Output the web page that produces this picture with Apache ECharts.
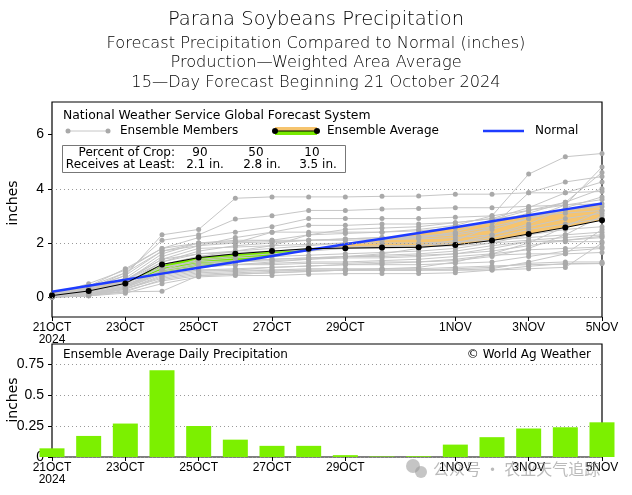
<!DOCTYPE html>
<html><head><meta charset="utf-8">
<script src="https://cdn.jsdelivr.net/npm/echarts@6/dist/echarts.min.js"></script>
<style>html,body{margin:0;padding:0;background:#fff}#c{width:632px;height:495px}</style>
</head><body><div id="c"></div>
<script>
const dayLabels = ['21OCT','22OCT','23OCT','24OCT','25OCT','26OCT','27OCT','28OCT','29OCT','30OCT','31OCT','1NOV','2NOV','3NOV','4NOV','5NOV'];
const shownDays = [0,2,4,6,8,11,13,15];
const yearLabel = '2024';
const ensembleAvg = [0.06,0.23,0.51,1.21,1.46,1.60,1.70,1.79,1.81,1.83,1.84,1.93,2.09,2.33,2.57,2.84];
const normal = [0.20,0.42,0.64,0.87,1.09,1.30,1.52,1.74,1.95,2.16,2.37,2.58,2.80,3.02,3.24,3.46];
const dailyPrecip = [0.07,0.17,0.27,0.70,0.25,0.14,0.09,0.09,0.015,0.004,0.006,0.10,0.16,0.23,0.24,0.28];
const topYTicks = [0,2,4,6];
const bottomYTicks = [0,0.25,0.5,0.75];
const cropPercent = ['90','50','10'];
const cropAmount = ['2.1 in.','2.8 in.','3.5 in.'];

const member01 = [0.10,0.35,0.80,2.30,2.50,3.65,3.70,3.70,3.70,3.72,3.73,3.80,3.80,3.85,3.85,3.90];
const member02 = [0.05,0.30,0.90,2.10,2.30,2.88,3.00,3.20,3.20,3.25,3.27,3.30,3.30,3.35,3.40,3.45];
const member03 = [0.10,0.40,1.05,1.80,2.20,2.40,2.60,2.90,2.90,2.90,2.90,2.95,3.00,3.20,3.50,4.00];
const member04 = [0.00,0.20,0.60,1.50,1.90,2.20,2.40,2.65,2.65,2.70,2.70,2.75,2.90,3.30,3.85,4.25];
const member05 = [0.05,0.30,0.70,1.60,2.00,2.00,2.40,2.40,2.40,2.40,2.45,2.55,2.75,3.10,3.50,4.60];
const member06 = [0.00,0.10,0.30,1.20,1.50,1.70,1.90,2.30,2.35,2.40,2.50,2.65,3.00,4.54,5.18,5.30];
const member07 = [0.05,0.20,0.50,1.30,1.70,1.90,2.00,2.10,2.15,2.20,2.20,2.30,2.50,2.90,3.40,4.80];
const member08 = [0.00,0.15,0.40,1.00,1.40,1.50,1.60,1.70,1.80,1.85,1.90,2.10,2.60,3.85,4.25,4.45];
const member09 = [0.10,0.25,0.60,1.40,1.80,1.85,1.90,1.95,2.00,2.00,2.00,2.05,2.10,2.20,2.30,2.40];
const member10 = [0.00,0.10,0.35,0.90,1.10,1.20,1.30,1.40,1.50,1.60,1.80,2.00,2.30,2.70,3.30,3.70];
const member11 = [0.05,0.20,0.50,1.10,1.30,1.35,1.40,1.45,1.50,1.50,1.55,1.60,1.70,1.90,2.10,2.20];
const member12 = [0.00,0.05,0.25,0.60,0.80,0.85,0.90,0.95,1.00,1.05,1.10,1.30,1.60,2.00,2.60,3.20];
const member13 = [0.05,0.10,0.30,0.80,1.00,1.00,1.00,1.05,1.05,1.05,1.05,1.10,1.15,1.20,1.22,1.24];
const member14 = [0.00,0.05,0.15,0.50,0.75,0.80,0.80,0.85,0.87,0.87,0.87,0.90,1.00,1.14,1.24,1.25];
const member15 = [0.10,0.30,0.80,1.70,2.00,2.10,2.10,2.10,2.10,2.13,2.15,2.20,2.30,2.60,2.90,3.10];
const member16 = [0.00,0.20,0.45,1.00,1.20,1.30,1.35,1.40,1.45,1.45,1.50,1.60,1.80,2.05,2.10,2.25];
const member17 = [0.05,0.15,0.40,0.90,1.10,1.20,1.25,1.30,1.30,1.35,1.40,1.50,1.60,1.75,1.80,1.85];
const member18 = [0.10,0.40,0.90,1.70,1.90,2.00,2.05,2.10,2.15,2.20,2.25,2.35,2.60,2.90,3.20,3.35];
const member19 = [0.00,0.10,0.30,0.70,0.90,0.95,1.00,1.00,1.00,1.00,1.00,1.00,1.05,1.30,1.60,2.50];
const member20 = [0.05,0.25,0.55,1.20,1.50,1.60,1.70,1.75,1.80,1.80,1.85,1.90,2.00,2.10,2.20,2.30];
const member21 = [0.00,0.05,0.20,0.22,0.80,0.85,0.90,0.95,1.00,1.00,1.00,1.05,1.10,1.25,1.30,1.30];
const member22 = [0.05,0.30,0.65,1.40,1.60,1.65,1.70,1.80,1.85,1.90,1.90,2.00,2.20,2.50,2.70,2.90];
const member23 = [0.00,0.15,0.35,0.85,1.00,1.05,1.10,1.15,1.20,1.20,1.20,1.25,1.30,1.50,1.70,1.80];
const member24 = [0.10,0.50,1.00,1.80,2.00,2.05,2.10,2.30,2.50,2.55,2.60,2.75,2.90,3.00,3.10,3.20];
const member25 = [0.00,0.10,0.20,0.65,0.85,0.90,0.95,1.00,1.00,1.00,1.00,1.00,1.00,1.05,1.10,2.00];
const member26 = [0.05,0.20,0.45,1.00,1.25,1.30,1.40,1.45,1.50,1.55,1.60,1.70,1.90,2.05,2.05,2.05];
const member27 = [0.00,0.05,0.30,0.75,0.95,1.00,1.10,1.15,1.20,1.25,1.30,1.40,1.55,1.60,1.60,1.65];
const member28 = [0.05,0.20,0.60,1.30,1.60,1.70,1.80,1.90,2.00,2.10,2.20,2.40,2.85,3.20,3.40,3.60];
const member29 = [0.00,0.10,0.40,0.95,1.15,1.20,1.20,1.25,1.25,1.30,1.30,1.35,1.50,1.80,2.30,3.00];
const member30 = [0.05,0.25,0.50,1.10,1.35,1.45,1.50,1.55,1.60,1.65,1.70,1.80,2.00,2.30,2.50,2.60];
const members = [member01,member02,member03,member04,member05,member06,member07,member08,member09,member10,
  member11,member12,member13,member14,member15,member16,member17,member18,member19,member20,
  member21,member22,member23,member24,member25,member26,member27,member28,member29,member30];

const GREEN = '#78ea00', ORANGE = '#f6c46e', BLUE = '#1e3cff', BAR = '#7cf000';
const FONT = '"DejaVu Sans", sans-serif';
const AXF = '"Liberation Sans Narrow","Liberation Sans",sans-serif';

const chart = echarts.init(document.getElementById('c'), null, {renderer:'canvas'});
const catLabels = dayLabels.map((d,i)=> i===0 ? d + '\n' + yearLabel : d);
const showIdx = (i)=> shownDays.indexOf(i) >= 0;

function catAxis(gi){
  return {type:'category', gridIndex:gi, data:catLabels, boundaryGap:false, position:'bottom',
    axisLine:{show:false},
    axisTick:{show:true, inside:false, length:4, interval:(i)=>showIdx(i), lineStyle:{color:'#000'}},
    axisLabel:{interval:(i)=>showIdx(i), color:'#000', fontFamily:AXF, fontSize:12, margin:5, lineHeight:12},
    splitLine:{show:false}};
}

function renderFill(params, api){
  const i = api.value(0);
  if (i >= ensembleAvg.length - 1) return null;
  const a0 = ensembleAvg[i], a1 = ensembleAvg[i+1], n0 = normal[i], n1 = normal[i+1];
  const d0 = a0 - n0, d1 = a1 - n1;
  const poly = (pts, col)=>({type:'polygon', shape:{points:pts.map(p=>api.coord(p))}, style:{fill:col, stroke:null}});
  const children = [];
  if (d0*d1 >= 0){
    const col = (d0 + d1) >= 0 ? GREEN : ORANGE;
    children.push(poly([[i,a0],[i+1,a1],[i+1,n1],[i,n0]], col));
  } else {
    const t = d0/(d0-d1);
    const cx = i + t, cy = a0 + t*(a1-a0);
    children.push(poly([[i,a0],[cx,cy],[i,n0]], d0>0?GREEN:ORANGE));
    children.push(poly([[cx,cy],[i+1,a1],[i+1,n1]], d1>0?GREEN:ORANGE));
  }
  return {type:'group', children};
}

const series = [];
series.push({type:'custom', xAxisIndex:0, yAxisIndex:0, renderItem:renderFill,
  data: ensembleAvg.map((v,i)=>[i,v]), z:1, silent:true, clip:true});
members.forEach((m)=>{
  series.push({type:'line', xAxisIndex:0, yAxisIndex:0, data:m.map((v,i)=>[i,v]),
    symbol:'circle', symbolSize:5, showSymbol:true, itemStyle:{color:'#a9a9a9'},
    lineStyle:{color:'#c6c6c6', width:1}, z:2, silent:true, animation:false});
});
series.push({type:'line', xAxisIndex:0, yAxisIndex:0, data:normal.map((v,i)=>[i,v]),
  symbol:'none', lineStyle:{color:BLUE, width:2.5}, z:3, silent:true,
  markLine:{silent:true, symbol:['none','none'], label:{show:false},
    lineStyle:{color:'#999', type:[1,3], width:1},
    data: topYTicks.slice(0,3).map(v=>({yAxis:v}))}});
series.push({type:'line', xAxisIndex:0, yAxisIndex:0, data:ensembleAvg.map((v,i)=>[i,v]),
  symbol:'circle', symbolSize:6, itemStyle:{color:'#000'}, lineStyle:{color:'#000', width:1}, z:4, silent:true});
series.push({type:'bar', xAxisIndex:2, yAxisIndex:1, data:dailyPrecip.map((v,i)=>[i,v]),
  barWidth:25, itemStyle:{color:BAR}, clip:true, silent:true});

const txt = (text, x, y, size, align, weight)=>({type:'text', silent:true, z:100,
  style:{text, x, y, fill:'#000', font: (weight||'normal') + ' ' + size + 'px ' + FONT, textAlign:align||'left', textVerticalAlign:'middle'}});
const vtxt = (text, x, y, size)=>({type:'text', silent:true, z:100, x, y, rotation:Math.PI/2,
  style:{text, x:0, y:0, fill:'#000', font:size+'px '+FONT, textAlign:'center', textVerticalAlign:'middle'}});

const graphic = [
  txt('Parana Soybeans Precipitation', 316, 20, 19.5, 'center', '300'),
  txt('Forecast Precipitation Compared to Normal (inches)', 316, 44, 16.2, 'center', '300'),
  txt('Production\u2014Weighted Area Average', 316, 63, 16.2, 'center', '300'),
  txt('15\u2014Day Forecast Beginning 21 October 2024', 316, 83, 16.2, 'center', '300'),
  txt('National Weather Service Global Forecast System', 63, 116, 12.4, 'left'),
  {type:'line', silent:true, z:100, shape:{x1:68,y1:131,x2:108,y2:131}, style:{stroke:'#c6c6c6', lineWidth:1}},
  {type:'circle', silent:true, z:101, shape:{cx:68,cy:131,r:2.5}, style:{fill:'#a9a9a9'}},
  {type:'circle', silent:true, z:101, shape:{cx:108,cy:131,r:2.5}, style:{fill:'#a9a9a9'}},
  txt('Ensemble Members', 120, 131, 12, 'left'),
  {type:'rect', silent:true, z:100, shape:{x:275,y:127,width:42,height:4}, style:{fill:ORANGE}},
  {type:'rect', silent:true, z:100, shape:{x:275,y:131,width:42,height:4}, style:{fill:GREEN}},
  {type:'line', silent:true, z:101, shape:{x1:275,y1:131,x2:317,y2:131}, style:{stroke:'#000', lineWidth:1}},
  {type:'circle', silent:true, z:102, shape:{cx:275,cy:131,r:3}, style:{fill:'#000'}},
  {type:'circle', silent:true, z:102, shape:{cx:317,cy:131,r:3}, style:{fill:'#000'}},
  txt('Ensemble Average', 327, 131, 12, 'left'),
  {type:'line', silent:true, z:100, shape:{x1:483,y1:131,x2:524,y2:131}, style:{stroke:BLUE, lineWidth:2.5}},
  txt('Normal', 535, 131, 12, 'left'),
  {type:'rect', silent:true, z:100, shape:{x:62.5,y:145.5,width:283,height:27}, style:{fill:'#fff', stroke:'#777', lineWidth:1}},
  txt('Percent of Crop:', 175, 153, 12, 'right'),
  txt('Receives at Least:', 175, 165, 12, 'right'),
  txt(cropPercent[0], 200, 153, 12, 'center'),
  txt(cropPercent[1], 256, 153, 12, 'center'),
  txt(cropPercent[2], 312, 153, 12, 'center'),
  txt(cropAmount[0], 205, 165, 12, 'center'),
  txt(cropAmount[1], 262, 165, 12, 'center'),
  txt(cropAmount[2], 318, 165, 12, 'center'),
  vtxt('inches', 13, 203, 14),
  vtxt('inches', 13, 400, 14),
  txt('Ensemble Average Daily Precipitation', 63, 355, 12, 'left'),
  txt('\u00a9 World Ag Weather', 591, 355, 12, 'right'),
  {type:'circle', silent:true, z:110, shape:{cx:413,cy:466,r:7}, style:{fill:'rgba(150,150,150,0.55)'}},
  {type:'circle', silent:true, z:110, shape:{cx:421,cy:472,r:6}, style:{fill:'rgba(150,150,150,0.55)'}},
  {type:'text', silent:true, z:110, style:{text:'\u516c\u4f17\u53f7 \u00b7 \u519c\u4e1a\u5929\u6c14\u8ffd\u8e2a', x:433, y:469,
    fill:'rgba(140,140,140,0.6)', font:'16px "Noto Sans CJK SC", sans-serif', textAlign:'left', textVerticalAlign:'middle'}}
];

const option = {
  animation:false,
  backgroundColor:'#fff',
  grid:[
    {left:52, right:30, top:102, height:215, show:true, borderColor:'#000', borderWidth:1.2, backgroundColor:'transparent'},
    {left:52, right:30, top:344, height:113, show:true, borderColor:'#000', borderWidth:1.2, backgroundColor:'transparent'}
  ],
  xAxis:[
    {type:'value', gridIndex:0, min:0, max:15, show:false},
    catAxis(0),
    {type:'value', gridIndex:1, min:0, max:15, show:false},
    catAxis(1)
  ],
  yAxis:[
    {type:'value', gridIndex:0, min:-0.73, max:7.2,
      axisLine:{show:false}, splitLine:{show:false},
      axisTick:{show:true, length:4, customValues:topYTicks, lineStyle:{color:'#000'}},
      axisLabel:{customValues:topYTicks, color:'#000', fontFamily:'"Liberation Sans",sans-serif', fontSize:14, margin:8}},
    {type:'value', gridIndex:1, min:0, max:0.912, interval:0.25,
      axisLine:{show:false},
      splitLine:{show:true, lineStyle:{color:'#999', type:[1,3], width:1}},
      axisTick:{show:true, length:4, customValues:bottomYTicks, lineStyle:{color:'#000'}},
      axisLabel:{customValues:bottomYTicks, color:'#000', fontFamily:'"Liberation Sans",sans-serif', fontSize:14, margin:8,
        formatter:(v)=> String(v)}}
  ],
  series,
  graphic
};
chart.setOption(option);
</script></body></html>
